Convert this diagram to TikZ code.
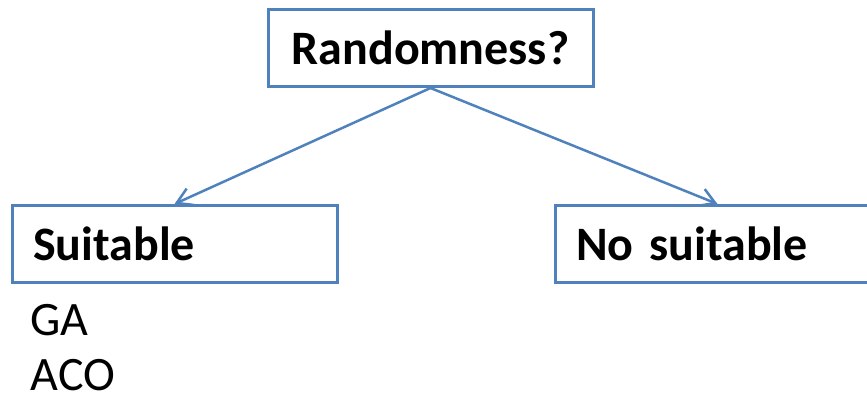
\documentclass[tikz,border=0pt]{standalone}
\usepackage{fontspec}
\setmainfont{Carlito}
\usetikzlibrary{positioning,arrows.meta}
\definecolor{boxblue}{HTML}{4F81BD}
\tikzset{%
  choice/.style={%
    rectangle,%
    draw=boxblue,%
    line width=3pt,%
    font=\fontsize{48}{57}\selectfont\bfseries,%
    text width=283pt,%
    inner xsep=21pt,%
    inner ysep=0pt,%
    minimum height=77pt},
  branch/.style={%
    draw=boxblue,%
    line width=2.5pt,%
    -{Straight Barb[length=15pt,width=18pt]}}
}
\begin{document}
\begin{tikzpicture}[x=1pt,y=1pt,every
            node/.style={font=\fontsize{48}{57}\selectfont}]
            \useasboundingbox (0,0) rectangle (867,397);
            \node [choice,align=center] (rand) at (430.5,349) {Randomness?};
            \node [choice,align=left] (suit) at (174.5,153) {Suitable};
            \node [choice,align=left] (nosuit) at (717.5,153) {No suitable};
            \node [inner sep=0pt,anchor=base west] (ga)
              at ([xshift=20pt,yshift=-51pt]suit.south west) {GA};
            \node [inner sep=0pt,anchor=base west] (aco)
              at ([yshift=-55pt]ga.base west) {ACO};
            \draw [branch] (rand.south) -- (suit.north);
            \draw [branch] (rand.south) -- (nosuit.north);
          \end{tikzpicture}
\end{document}
